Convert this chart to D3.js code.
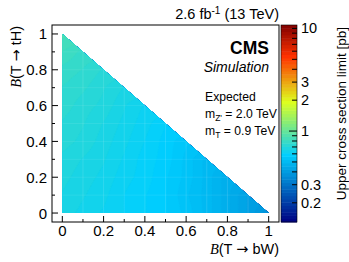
<!DOCTYPE html>
<html><head><meta charset="utf-8">
<script src="https://cdn.jsdelivr.net/npm/d3@7"></script>
<style>
html,body{margin:0;padding:0;background:#fff;}
svg{display:block;font-family:"Liberation Sans",Arial,sans-serif;}
</style></head><body>
<svg id="c" width="349" height="262"></svg>
<script>
// ---- data ----
const bW = [0,0.1,0.2,0.3,0.4,0.5,0.6,0.7,0.8,0.9,1.0];   // B(T->bW) grid
const tH = [0,0.1,0.2,0.3,0.4,0.5,0.6,0.7,0.8,0.9,1.0];   // B(T->tH) grid
// expected upper limits [pb], row per tH value, columns bW = 0 .. 1-tH
const limits = [
  [0.67,0.65,0.63,0.61,0.59,0.57,0.54,0.50,0.46,0.42,0.38],
  [0.68,0.66,0.64,0.61,0.59,0.57,0.53,0.50,0.46,0.42],
  [0.69,0.67,0.65,0.62,0.60,0.57,0.54,0.50,0.46],
  [0.70,0.68,0.66,0.63,0.60,0.58,0.54,0.50],
  [0.72,0.70,0.67,0.64,0.61,0.58,0.55],
  [0.73,0.71,0.68,0.65,0.62,0.59],
  [0.75,0.72,0.70,0.66,0.63],
  [0.76,0.74,0.71,0.68],
  [0.78,0.76,0.73],
  [0.82,0.78],
  [0.86]
];
const xTicks = [0,0.2,0.4,0.6,0.8,1];
const yTicks = [0,0.2,0.4,0.6,0.8,1];
const zTickLabels = [0.2,0.3,1,2,3,10];
const zDomain = [0.13,10.8];

// ---- layout ----
const svg = d3.select("#c");
const L=52,R=279,T=25,B=222;
const x = d3.scaleLinear().domain([-0.05,1.05]).range([L,R]);
const y = d3.scaleLinear().domain([-0.05,1.05]).range([B,T]);
const cbX0=281, cbX1=297;
const z = d3.scaleLog().domain(zDomain).range([B,T]);

// ROOT-like rainbow palette
const stops=[0,0.34,0.61,0.84,1], rr=[0,0,0.87,1,0.51], gg=[0,0.81,1,0.2,0], bb=[0.51,1,0.12,0,0];
function pal(t){
  t=Math.max(0,Math.min(1,t));
  let i=0; while(i<stops.length-2 && t>stops[i+1]) i++;
  const f=(t-stops[i])/(stops[i+1]-stops[i]);
  const c=a=>Math.round(255*(a[i]+(a[i+1]-a[i])*f));
  return `rgb(${c(rr)},${c(gg)},${c(bb)})`;
}
const lz0=Math.log10(zDomain[0]), lz1=Math.log10(zDomain[1]);

// ---- heat map (interpolated contours) ----
function val(i,j){ // i: bW index, j: tH index
  const row=limits[j]; return row[Math.min(i,row.length-1)];
}
const N=111;
const grid=new Float64Array(N*N);
for(let r=0;r<N;r++){ for(let c=0;c<N;c++){
  const u=c/(N-1)*(bW.length-1), v=r/(N-1)*(tH.length-1);
  const i0=Math.min(Math.floor(u),bW.length-2), j0=Math.min(Math.floor(v),tH.length-2);
  const fu=u-i0, fv=v-j0;
  const a=Math.log10(val(i0,j0)),b=Math.log10(val(i0+1,j0)),c2=Math.log10(val(i0,j0+1)),d=Math.log10(val(i0+1,j0+1));
  grid[r*N+c]=a*(1-fu)*(1-fv)+b*fu*(1-fv)+c2*(1-fu)*fv+d*fu*fv;
}}
const nLev=120;
const levels=d3.range(nLev).map(k=>lz0+(lz1-lz0)*k/nLev);
const contours=d3.contours().size([N,N]).thresholds(levels)(Array.from(grid));
const gx=d3.scaleLinear().domain([0.5,N-0.5]).range([x(0),x(1)]);
const gy=d3.scaleLinear().domain([0.5,N-0.5]).range([y(0),y(1)]);
const proj=d3.geoTransform({point:function(px,py){this.stream.point(gx(px),gy(py));}});
const path=d3.geoPath(proj);
const defs=svg.append("defs");
defs.append("clipPath").attr("id","tri").append("path")
  .attr("d",`M${x(0)},${y(0)}L${x(1)},${y(0)}L${x(0)},${y(1)}Z`);
const hm=svg.append("g").attr("clip-path","url(#tri)");
const lc=d=>pal((d.value+(lz1-lz0)/nLev/2-lz0)/(lz1-lz0));
hm.selectAll("path").data(contours).join("path")
  .attr("d",path).attr("fill",lc).attr("stroke",lc).attr("stroke-width",0.3);
// faint bin boundary lines (ROOT rendering artefact)
hm.selectAll("line.gv").data(bW.slice(1,-1)).join("line")
  .attr("x1",d=>x(d)).attr("x2",d=>x(d)).attr("y1",y(0)).attr("y2",y(1))
  .attr("stroke","#fff").attr("stroke-opacity",0.12).attr("stroke-width",1);
hm.selectAll("line.gh").data(tH.slice(1,-1)).join("line")
  .attr("y1",d=>y(d)).attr("y2",d=>y(d)).attr("x1",x(0)).attr("x2",x(1))
  .attr("stroke","#fff").attr("stroke-opacity",0.08).attr("stroke-width",1);

// ---- frame & axes ----
svg.append("rect").attr("x",L).attr("y",T).attr("width",R-L).attr("height",B-T)
  .attr("fill","none").attr("stroke","#000").attr("stroke-width",1);
const tk=svg.append("g").attr("stroke","#000").attr("stroke-width",1);
d3.range(0,1.0001,0.1).forEach(v=>{
  const major=Math.abs(Math.round(v*5)-v*5)<1e-6;
  const len=major?6:3;
  tk.append("line").attr("x1",x(v)).attr("x2",x(v)).attr("y1",B).attr("y2",B-len);
  tk.append("line").attr("y1",y(v)).attr("y2",y(v)).attr("x1",L).attr("x2",L+len);
});
const fmt=v=>v===0?"0":v===1?"1":String(v);
svg.append("g").selectAll("text").data(xTicks).join("text")
  .attr("x",d=>x(d)).attr("y",236).attr("text-anchor","middle")
  .attr("font-size",15).text(fmt);
svg.append("g").selectAll("text").data(yTicks).join("text")
  .attr("x",47).attr("y",d=>y(d)+5.5).attr("text-anchor","end")
  .attr("font-size",15).text(fmt);

// axis titles
const xt=svg.append("text").attr("x",R).attr("y",254).attr("text-anchor","end").attr("font-size",14.5);
xt.append("tspan").attr("font-family","Liberation Serif, serif").attr("font-style","italic").text("B");
xt.append("tspan").text("(T ");
xt.append("tspan").attr("font-family","DejaVu Sans").text("→");
xt.append("tspan").text(" bW)");
const yt=svg.append("text").attr("transform",`translate(21,${T+1}) rotate(-90)`).attr("text-anchor","end").attr("font-size",14.5);
yt.append("tspan").attr("font-family","Liberation Serif, serif").attr("font-style","italic").text("B");
yt.append("tspan").text("(T ");
yt.append("tspan").attr("font-family","DejaVu Sans").text("→");
yt.append("tspan").text(" tH)");

// ---- colour bar ----
const nb=60;
const cb=svg.append("g");
cb.selectAll("rect").data(d3.range(nb)).join("rect")
  .attr("x",cbX0).attr("width",cbX1-cbX0)
  .attr("y",k=>B-(B-T)*(k+1)/nb).attr("height",(B-T)/nb+0.5)
  .attr("fill",k=>pal((k+0.5)/nb));
const minorZ=[0.2,0.3,0.4,0.5,0.6,0.7,0.8,0.9,1,2,3,4,5,6,7,8,9,10];
cb.selectAll("line").data(minorZ).join("line")
  .attr("x1",d=>cbX1-(d===1?8:5)).attr("x2",cbX1).attr("y1",d=>z(d)).attr("y2",d=>z(d))
  .attr("stroke","#000").attr("stroke-width",1);
cb.append("rect").attr("x",cbX0).attr("y",T).attr("width",cbX1-cbX0).attr("height",B-T)
  .attr("fill","none").attr("stroke","#000").attr("stroke-width",0.6);
svg.append("g").selectAll("text").data(zTickLabels).join("text")
  .attr("x",301).attr("y",d=>z(d)+5).attr("font-size",14.5).text(d=>String(d));
svg.append("text").attr("transform",`translate(346,${T+2}) rotate(-90)`).attr("text-anchor","end")
  .attr("font-size",13.5).text("Upper cross section limit [pb]");

// ---- labels ----
const lum=svg.append("text").attr("x",R).attr("y",19).attr("text-anchor","end").attr("font-size",14.5);
lum.append("tspan").text("2.6 fb");
lum.append("tspan").attr("font-size",10).attr("dy",-5).text("-1");
lum.append("tspan").attr("dy",5).text(" (13 TeV)");
svg.append("text").attr("x",269).attr("y",54).attr("text-anchor","end").attr("font-size",17.5)
  .attr("font-weight","bold").text("CMS");
svg.append("text").attr("x",269).attr("y",72).attr("text-anchor","end").attr("font-size",14)
  .attr("font-style","italic").text("Simulation");
svg.append("text").attr("x",205).attr("y",101).attr("font-size",12.2).text("Expected");
const m1=svg.append("text").attr("x",205).attr("y",118).attr("font-size",12.2);
m1.append("tspan").text("m");
m1.append("tspan").attr("font-size",8.5).attr("dy",3).text("Z'");
m1.append("tspan").attr("dy",-3).text(" = 2.0 TeV");
const m2=svg.append("text").attr("x",205).attr("y",135).attr("font-size",12.2);
m2.append("tspan").text("m");
m2.append("tspan").attr("font-size",8.5).attr("dy",3).text("T");
m2.append("tspan").attr("dy",-3).text(" = 0.9 TeV");
</script></body></html>
